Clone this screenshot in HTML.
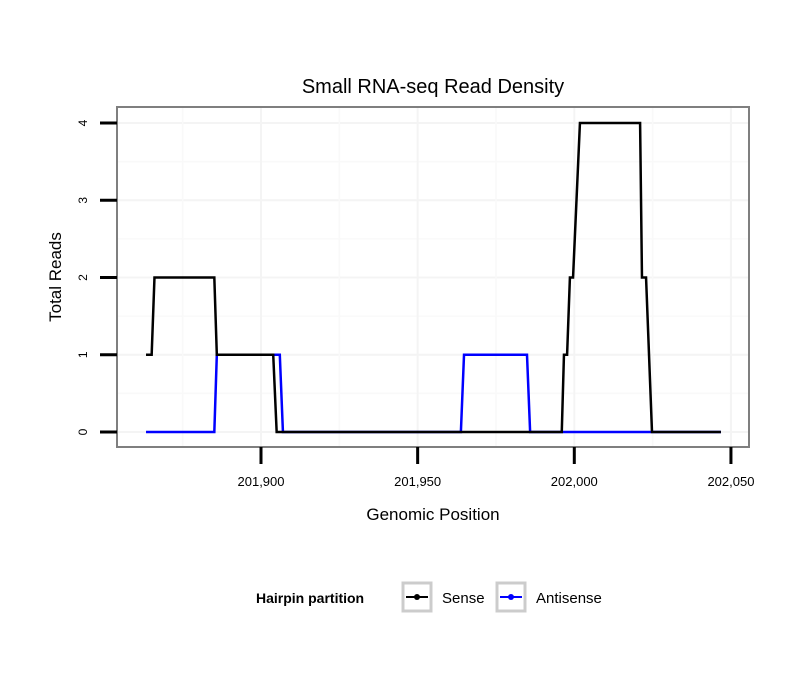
<!DOCTYPE html>
<html><head><meta charset="utf-8"><style>
body{margin:0;background:#fff;font-family:"Liberation Sans",Arial,sans-serif}
svg text{font-family:"Liberation Sans",Arial,sans-serif}
</style></head><body>
<svg id="chart" width="810" height="690" xmlns="http://www.w3.org/2000/svg">
<rect width="810" height="690" fill="#fff"/>
<text x="433" y="93" font-size="20" text-anchor="middle">Small RNA-seq Read Density</text>
<g id="grid"></g>
<rect x="117" y="107" width="632" height="340" fill="none" stroke="#7f7f7f" stroke-width="2"/>
<g id="series"></g>
<g id="axes"></g>
<text x="433" y="520" font-size="17" text-anchor="middle">Genomic Position</text>
<text transform="translate(61,277) rotate(-90)" font-size="17" text-anchor="middle">Total Reads</text>
<g>
<text x="256" y="603" font-size="14" font-weight="bold">Hairpin partition</text>
<g>
<rect x="403" y="583" width="28" height="28" fill="#fff" stroke="#ccc" stroke-width="3"/>
<line x1="406" y1="597" x2="428" y2="597" stroke="#000" stroke-width="2"/><circle cx="417" cy="597" r="3" fill="#000"/>
<text x="442" y="603" font-size="15">Sense</text></g>
<g>
<rect x="497" y="583" width="28" height="28" fill="#fff" stroke="#ccc" stroke-width="3"/>
<line x1="500" y1="597" x2="522" y2="597" stroke="#00f" stroke-width="2"/><circle cx="511" cy="597" r="3" fill="#00f"/>
<text x="536" y="603" font-size="15">Antisense</text></g>
</g>
</svg>
<script>
const xTicks=[201900,201950,202000,202050];
const xTickLabels=["201,900","201,950","202,000","202,050"];
const yTicks=[0,1,2,3,4];
const senseX=[201863.3,201865.1,201866,201885.1,201885.9,201903.9,201905,201996,201996.7,201997.7,201998.6,201999.6,202001.8,202021,202021.6,202022.9,202024.8,202046.8];
const senseY=[1,1,2,2,1,1,0,0,1,1,2,2,4,4,2,2,0,0];
const antiX=[201863.3,201885.1,201885.9,201906,201907,201963.8,201964.8,201984.9,201985.9,202046.8];
const antiY=[0,0,1,1,0,0,1,1,0,0];
const NS="http://www.w3.org/2000/svg";
const xs=v=>261+(v-201900)*3.133;
const ys=v=>432-v*77.25;
function mk(t,a,p){const e=document.createElementNS(NS,t);for(const k in a)e.setAttribute(k,a[k]);p.appendChild(e);return e;}
const grid=document.getElementById('grid'),axes=document.getElementById('axes'),series=document.getElementById('series');
for(let i=0;i<yTicks.length;i++){
 const y=ys(yTicks[i]);
 const g=mk('line',{x1:117,x2:749,y1:y,y2:y,stroke:'#f4f4f4','stroke-width':2},grid);
 
 
 if(i<yTicks.length-1){const m=mk('line',{x1:117,x2:749,y1:ys(yTicks[i]+0.5),y2:ys(yTicks[i]+0.5),stroke:'#f9f9f9','stroke-width':1.5},grid);
 
 }
 const t=mk('line',{x1:100,x2:117,y1:y,y2:y,stroke:'#000','stroke-width':3},axes);
 
 
 const l=mk('text',{transform:`translate(87,${y}) rotate(-90)`,'font-size':12,'text-anchor':'middle'},axes);
 l.textContent=yTicks[i];
 
 
}
for(let i=0;i<xTicks.length;i++){
 const x=xs(xTicks[i]);
 const g=mk('line',{x1:x,x2:x,y1:107,y2:447,stroke:'#f4f4f4','stroke-width':2},grid);
 
 
 const m=mk('line',{x1:xs(xTicks[i]-25),x2:xs(xTicks[i]-25),y1:107,y2:447,stroke:'#f9f9f9','stroke-width':1.5},grid);
 
 
 const t=mk('line',{x1:x,x2:x,y1:447,y2:464,stroke:'#000','stroke-width':3},axes);
 
 
 const l=mk('text',{x:x,y:486,'font-size':13,'text-anchor':'middle'},axes);
 l.textContent=xTickLabels[i];
 
 
}
function line(X,Y,c,name){
 const p=mk('polyline',{points:X.map((v,i)=>xs(v)+','+ys(Y[i])).join(' '),fill:'none',stroke:c,'stroke-width':2.5,'stroke-linejoin':'miter'},series);
 
 
}
line(antiX,antiY,'#0000ff','antisense-line');
line(senseX,senseY,'#000000','sense-line');
</script>
</body></html>
